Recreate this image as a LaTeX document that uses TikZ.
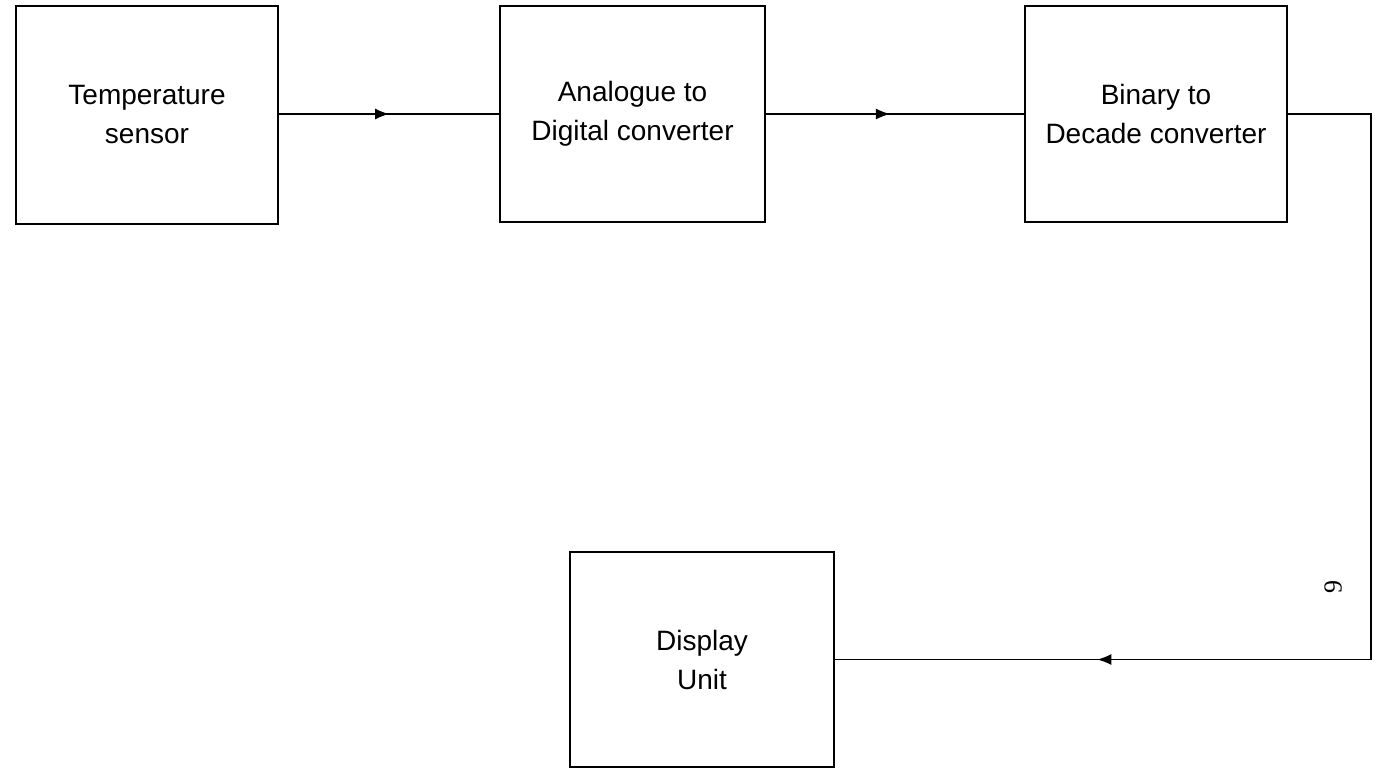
\documentclass[tikz,border=0pt]{standalone}
\usepackage{fontspec}
\setmainfont{Liberation Sans}
\newfontfamily\pgserif{Liberation Serif}
\usetikzlibrary{arrows.meta,decorations.markings}
\begin{document}
\begin{tikzpicture}[x=1pt,y=-1pt,
  blockbox/.style={draw=black, line width=1.1pt, minimum width=262pt, minimum height=217pt, align=center, inner sep=0pt,
    font=\fontsize{28}{39}\selectfont},
  conn/.style={draw=black, line width=1.1pt},
  midarrow/.style={postaction={decorate}, decoration={markings, mark=at position #1 with {\arrow{Latex[length=14pt,width=11pt]}}}}
]
\useasboundingbox (0,0) rectangle (1380,771);
\node[blockbox, minimum height=218pt] (ts) at (147,115) {Temperature\\sensor};
\node[blockbox, minimum width=265pt, minimum height=216pt] (adc) at (632.5,114) {Analogue to\\Digital converter};
\node[blockbox, minimum height=216pt] (bdc) at (1156,114) {Binary to\\Decade converter};
\node[blockbox, minimum width=264pt, minimum height=215pt] (disp) at (702,659.5) {Display\\Unit};
\coordinate (c1) at (1371,114);
\coordinate (c2) at (1371,659.5);
\draw[conn, midarrow=0.5] (ts.east |- 0,114) -- (adc.west |- 0,114);
\draw[conn, midarrow=0.48] (adc.east |- 0,114) -- (bdc.west |- 0,114);
\draw[conn] (bdc.east |- 0,114) -- (c1) -- (c2);
\draw[conn, midarrow=0.51] (c2) -- (disp.east |- c2);
\node[rotate=90, font=\pgserif\fontsize{26}{30}\selectfont] (pg) at (1333,587) {9};
\end{tikzpicture}
\end{document}
